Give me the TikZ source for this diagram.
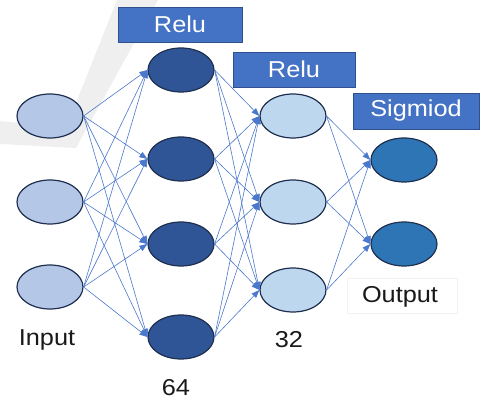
\documentclass[tikz,border=0pt]{standalone}
\usepackage{fontspec}
\setmainfont{Liberation Sans}[FakeStretch=1.1]
\usetikzlibrary{shapes.geometric,arrows.meta}

\definecolor{inL}{HTML}{B4C7E7}
\definecolor{hidA}{HTML}{2F5597}
\definecolor{hidB}{HTML}{BDD7EE}
\definecolor{outC}{HTML}{2E75B6}
\definecolor{rim}{HTML}{1F2F4F}
\definecolor{wire}{HTML}{4A78CC}
\definecolor{actbox}{HTML}{4472C4}
\definecolor{actrim}{HTML}{2F4F8F}
\definecolor{tickgray}{HTML}{EFEFEF}

\tikzset{
  neuron/.style={ellipse, draw=rim, line width=1.2pt, minimum width=66pt,
                 minimum height=44pt, inner sep=0pt},
  link/.style={draw=wire, line width=0.6pt,
               -{Triangle[length=8pt,width=6pt]}},
  actlabel/.style={fill=actbox, draw=actrim, line width=0.8pt, text=white,
                   font=\fontsize{23}{26}\selectfont, inner sep=0pt},
  caption/.style={text=black!90, font=\fontsize{23}{26}\selectfont, inner sep=0pt}
}

\begin{document}
\begin{tikzpicture}[x=1pt,y=-1pt]
  \useasboundingbox (0,0) rectangle (480,401);

  % faint check-mark behind the network
  \fill[tickgray] (0,121) -- (66,128) -- (117,0) -- (158,0) -- (76,148) -- (0,144) -- cycle;

  % input layer
  \node[neuron, fill=inL] (i1) at (50,116) {};
  \node[neuron, fill=inL] (i2) at (50,202) {};
  \node[neuron, fill=inL] (i3) at (50,287) {};

  % first hidden layer (64)
  \node[neuron, fill=hidA] (a1) at (181,70) {};
  \node[neuron, fill=hidA] (a2) at (181,159) {};
  \node[neuron, fill=hidA] (a3) at (181,244) {};
  \node[neuron, fill=hidA] (a4) at (181,337) {};

  % second hidden layer (32)
  \node[neuron, fill=hidB] (b1) at (293,116) {};
  \node[neuron, fill=hidB] (b2) at (293,202) {};
  \node[neuron, fill=hidB] (b3) at (293,290) {};

  % output layer
  \node[neuron, fill=outC] (o1) at (404,160) {};
  \node[neuron, fill=outC] (o2) at (404,244) {};

  % fully connected links
  \foreach \s in {i1,i2,i3}
    \foreach \t in {a1,a2,a3,a4}
      \draw[link] (\s.east) -- (\t.west);
  \foreach \s in {a1,a2,a3,a4}
    \foreach \t in {b1,b2,b3}
      \draw[link] (\s.east) -- (\t.west);
  \foreach \s in {b1,b2,b3}
    \foreach \t in {o1,o2}
      \draw[link] (\s.east) -- (\t.west);

  % activation boxes
  \node[actlabel, minimum width=124pt, minimum height=35pt] (r1) at (180,24.5) {Relu};
  \node[actlabel, minimum width=122pt, minimum height=35pt] (r2) at (294,69.5) {Relu};
  \node[actlabel, minimum width=126pt, minimum height=36pt] (sg) at (416,111) {Sigmiod};

  % layer captions
  \node[caption] (tin) at (47,340) {Input};
  \node[caption] (t64) at (176,388) {64};
  \node[caption] (t32) at (289,340) {32};
  \node[draw=black!5, line width=0.6pt, minimum width=110pt, minimum height=35pt]
       (obox) at (402,296) {};
  \node[caption] (tout) at (400,297) {Output};
\end{tikzpicture}
\end{document}
